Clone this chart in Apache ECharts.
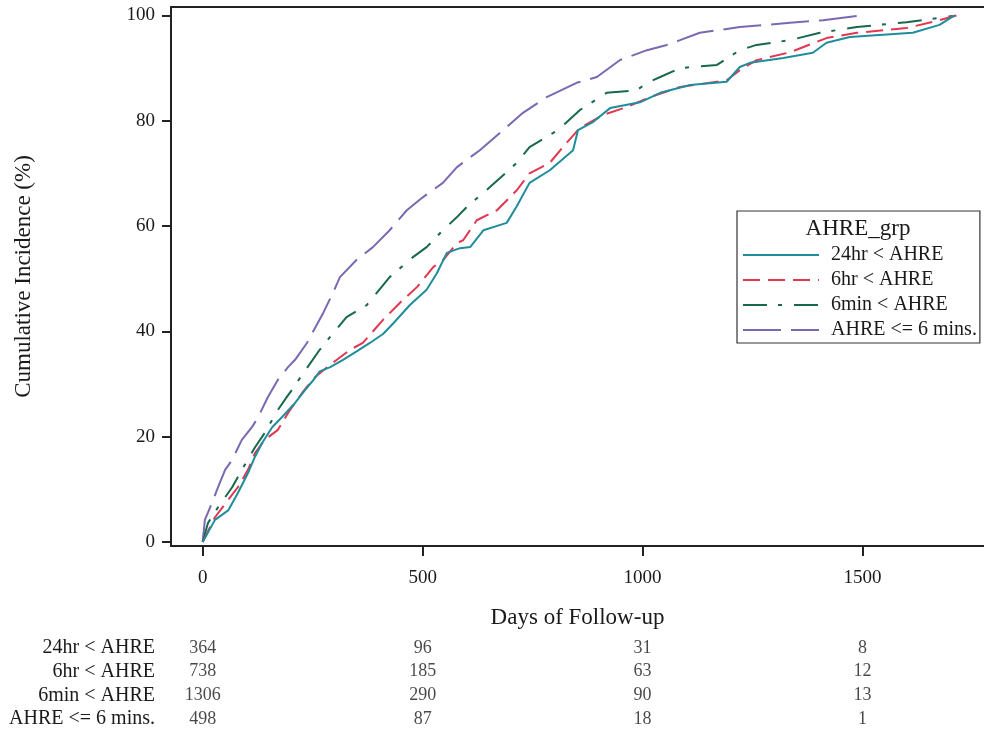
<!DOCTYPE html>
<html>
<head>
<meta charset="utf-8">
<script src="https://cdn.jsdelivr.net/npm/echarts@6/dist/echarts.min.js"></script>
<style>
html,body{margin:0;padding:0;background:#fff;}
#chart{width:984px;height:737px;}
</style>
</head>
<body>
<div id="chart"></div>
<script>
// ---- Data ----
const groupNames = ['24hr < AHRE', '6hr < AHRE', '6min < AHRE', 'AHRE <= 6 mins.'];

const days24hr = [0, 28, 58, 80, 103, 119, 135, 158, 180, 210, 233, 255, 266, 290, 319, 350, 380, 410, 433, 471, 509, 532, 555, 585, 608, 638, 691, 713, 743, 789, 842, 853, 888, 926, 994, 1040, 1108, 1191, 1221, 1244, 1320, 1387, 1418, 1471, 1614, 1675, 1699, 1710];
const cum24hr  = [0, 4.2, 6, 9.3, 13.1, 16.2, 18.8, 21.8, 23.7, 26.4, 28.9, 31.1, 32.4, 33.2, 34.6, 36.2, 37.8, 39.5, 41.5, 45, 47.9, 51, 54.9, 55.8, 56, 59.2, 60.6, 63.6, 68.2, 70.6, 74.4, 78.2, 79.8, 82.4, 83.5, 85.3, 86.8, 87.4, 90.2, 91, 91.9, 92.9, 94.8, 95.9, 96.7, 98.2, 99.5, 100];

const days6hr = [0, 28, 58, 80, 103, 119, 141, 171, 194, 226, 255, 280, 305, 335, 364, 410, 448, 487, 524, 547, 578, 592, 623, 669, 714, 743, 789, 819, 857, 910, 964, 1017, 1085, 1191, 1221, 1259, 1335, 1418, 1487, 1600, 1675, 1714];
const cum6hr  = [0, 4.7, 8, 10.4, 13.7, 16.9, 19.4, 21.3, 24.5, 28.3, 31.3, 33, 34.6, 36.5, 37.8, 42.2, 45.4, 48.4, 52.2, 53.6, 56.8, 57.3, 61.1, 63, 66.8, 70, 72, 75, 78.6, 81.1, 82.6, 84.5, 86.4, 87.7, 89.6, 91.5, 93, 95.7, 96.7, 97.6, 99.1, 100];

const days6min = [0, 12, 35, 67, 89, 119, 141, 171, 191, 203, 229, 266, 300, 327, 373, 425, 478, 509, 546, 578, 600, 653, 714, 743, 797, 826, 857, 918, 987, 1010, 1040, 1085, 1169, 1221, 1259, 1335, 1403, 1487, 1600, 1705];
const cum6min  = [0, 3.6, 6.6, 10.4, 13.7, 18, 20.7, 25.1, 27.5, 28.9, 32.1, 36.5, 40, 42.7, 45, 50.3, 54.1, 56, 59.2, 61.7, 63.6, 67.4, 72, 75, 77.7, 79.6, 82, 85.3, 85.8, 87.2, 88.3, 90, 90.6, 93.4, 94.4, 95.3, 96.7, 97.8, 98.7, 99.9];

const daysLE6 = [0, 2, 5, 21, 35, 51, 67, 89, 112, 126, 148, 171, 194, 210, 237, 274, 296, 312, 350, 387, 425, 464, 501, 546, 578, 630, 676, 728, 782, 850, 896, 948, 1010, 1055, 1085, 1130, 1221, 1335, 1410, 1495];
const cumLE6  = [0, 1.7, 4.2, 7.4, 10.4, 13.7, 15.6, 19.4, 21.8, 23.7, 27.5, 30.8, 33.2, 34.6, 37.8, 43.5, 47.3, 50.3, 53.6, 56, 59.2, 63, 65.5, 68.2, 71.2, 74.4, 77.7, 81.5, 84.5, 87.2, 88.3, 91.5, 93.4, 94.4, 95.3, 96.7, 97.8, 98.6, 99.1, 100];

const xTicks = [0, 500, 1000, 1500];
const yTicks = [0, 20, 40, 60, 80, 100];

const riskTimes = [0, 500, 1000, 1500];
const risk24hr = [364, 96, 31, 8];
const risk6hr  = [738, 185, 63, 12];
const risk6min = [1306, 290, 90, 13];
const riskLE6  = [498, 87, 18, 1];

// ---- Build ----
const zip = (xs, ys) => xs.map((x, i) => [x, ys[i]]);
const FONT = 'Liberation Serif';
const TXT = '#1a1a1a';
const colors = ['#1f8d9c', '#e23750', '#17684d', '#7b68b3'];
const dashes = ['solid', [17, 8], [24, 11, 4, 12], [38, 10]];
const curves = [zip(days24hr, cum24hr), zip(days6hr, cum6hr), zip(days6min, cum6min), zip(daysLE6, cumLE6)];
const riskRows = [risk24hr, risk6hr, risk6min, riskLE6];

const X_MIN = -72, X_MAX = 1776;

const lineSeries = curves.map((d, i) => ({
  name: groupNames[i],
  type: 'line',
  xAxisIndex: 0, yAxisIndex: 0,
  data: d,
  symbol: 'none',
  showSymbol: false,
  smooth: false,
  lineStyle: { color: colors[i], width: 2, type: dashes[i] },
  itemStyle: { color: colors[i] },
  z: 5 - i,
  animation: false
}));

const riskData = [];
riskRows.forEach((row, gi) => {
  row.forEach((n, ti) => riskData.push([riskTimes[ti], groupNames[gi], n]));
});

const option = {
  animation: false,
  backgroundColor: '#fff',
  textStyle: { fontFamily: FONT, color: TXT },
  grid: [
    { left: 171, top: 7, right: 0, bottom: 191 },
    { left: 171, top: 636, right: 0, height: 95 }
  ],
  xAxis: [
    {
      type: 'value', gridIndex: 0, min: X_MIN, max: X_MAX,
      name: 'Days of Follow-up', nameLocation: 'middle', nameGap: 60,
      nameTextStyle: { fontFamily: FONT, fontSize: 23, color: TXT },
      axisLine: { show: true, onZero: false, lineStyle: { color: '#222', width: 2 } },
      axisTick: { show: true, length: 10, lineStyle: { color: '#222', width: 2 }, customValues: xTicks },
      axisLabel: { fontFamily: FONT, fontSize: 19, color: TXT, margin: 23, customValues: xTicks, formatter: v => String(v) },
      splitLine: { show: false }
    },
    {
      type: 'value', gridIndex: 0, position: 'top', min: X_MIN, max: X_MAX,
      axisLine: { show: true, onZero: false, lineStyle: { color: '#222', width: 2 } },
      axisTick: { show: false }, axisLabel: { show: false }, splitLine: { show: false }
    },
    {
      type: 'value', gridIndex: 1, min: X_MIN, max: X_MAX, show: false
    }
  ],
  yAxis: [
    {
      type: 'value', gridIndex: 0, min: -0.76, max: 101.6,
      name: 'Cumulative Incidence (%)', nameLocation: 'middle', nameGap: 136,
      nameTextStyle: { fontFamily: FONT, fontSize: 23, color: TXT },
      axisLine: { show: true, onZero: false, lineStyle: { color: '#222', width: 2 } },
      axisTick: { show: true, length: 9, lineStyle: { color: '#222', width: 2 }, customValues: yTicks },
      axisLabel: { fontFamily: FONT, fontSize: 19, color: TXT, margin: 16, customValues: yTicks },
      splitLine: { show: false }
    },
    {
      type: 'category', gridIndex: 1, data: groupNames, inverse: true,
      axisLine: { show: false }, axisTick: { show: false },
      axisLabel: { fontFamily: FONT, fontSize: 20, color: TXT, margin: 16, interval: 0 },
      splitLine: { show: false }
    }
  ],
  legend: {
    orient: 'vertical',
    left: 737, top: 211,
    padding: [34, 3, 3, 5],
    itemWidth: 76, itemHeight: 14, itemGap: 5,
    borderColor: '#333', borderWidth: 1.2, borderRadius: 0,
    backgroundColor: '#fff',
    data: groupNames,
    itemStyle: { opacity: 0 },
    textStyle: { fontFamily: FONT, fontSize: 20, color: TXT, padding: [0, 0, 0, 7] },
    selectedMode: false
  },
  graphic: [
    {
      type: 'text', z: 100,
      x: 858, y: 229,
      style: { text: 'AHRE_grp', align: 'center', verticalAlign: 'middle', font: '23px "Liberation Serif"', fill: TXT }
    }
  ],
  series: lineSeries.concat([{
    name: 'risk',
    type: 'scatter',
    xAxisIndex: 2, yAxisIndex: 1,
    data: riskData,
    encode: { x: 0, y: 1 },
    symbolSize: 1,
    itemStyle: { color: 'rgba(0,0,0,0)' },
    label: {
      show: true, position: 'inside',
      formatter: p => String(p.value[2]),
      fontFamily: FONT, fontSize: 18, color: TXT
    },
    silent: true
  }])
};

const chart = echarts.init(document.getElementById('chart'), null, { renderer: 'canvas' });
chart.setOption(option);
</script>
</body>
</html>
